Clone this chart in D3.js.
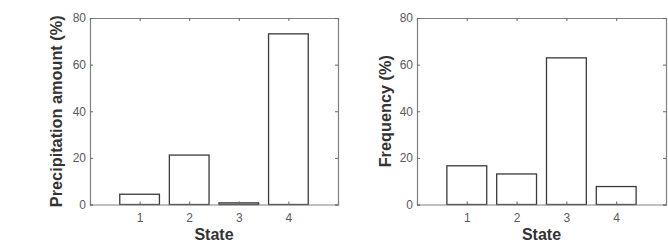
<!DOCTYPE html>
<html><head><meta charset="utf-8">
<script src="https://cdn.jsdelivr.net/npm/d3@7"></script>
<style>body{margin:0;background:#fff}svg{display:block}</style>
</head><body>
<svg id="c" width="668" height="252"></svg>
<script>
const states = [1, 2, 3, 4];
const precipAmount = [4.4, 21.2, 0.7, 73.2];
const frequency = [16.6, 13.1, 62.9, 7.7];
const yTicks = [0, 20, 40, 60, 80];
const panels = [
  {label: "Precipitation amount (%)", values: precipAmount, left: 90, right: 338, ylx: 61.5},
  {label: "Frequency (%)", values: frequency, left: 417, right: 666, ylx: 391}
];
const plotTop = 18, plotBottom = 204.5;
const svg = d3.select("#c");
const axisColor = "#808080", textColor = "#5a5a5a", barColor = "#3a3a3a";
const font = "Liberation Sans, Arial, sans-serif";

panels.forEach(p => {
  const x = d3.scaleLinear().domain([0, 5]).range([p.left, p.right]);
  const y = d3.scaleLinear().domain([0, 80]).range([plotBottom, plotTop]);
  const g = svg.append("g");
  g.selectAll("rect.bar").data(states).join("rect")
    .attr("x", d => x(d - 0.4)).attr("width", d => x(d + 0.4) - x(d - 0.4))
    .attr("y", (d, i) => y(p.values[i])).attr("height", (d, i) => y(0) - y(p.values[i]))
    .attr("fill", "#fff").attr("stroke", barColor).attr("stroke-width", 1.3);
  const ax = [
    d3.axisBottom(x).tickValues(states).tickSize(-3).tickPadding(8.5).tickFormat(d3.format("d")),
    d3.axisTop(x).tickValues(states).tickSize(-3).tickFormat(""),
    d3.axisLeft(y).tickValues(yTicks).tickSize(-3).tickPadding(4),
    d3.axisRight(y).tickValues(yTicks).tickSize(-3).tickFormat("")
  ];
  const tr = [`translate(0,${plotBottom})`, `translate(0,${plotTop})`, `translate(${p.left},0)`, `translate(${p.right},0)`];
  ax.forEach((a, i) => {
    const ag = g.append("g").attr("transform", tr[i]).call(a);
    ag.select(".domain").attr("stroke", axisColor).attr("stroke-width", 1.2);
    ag.selectAll(".tick line").attr("stroke", "#666");
    ag.selectAll(".tick text").attr("fill", textColor).attr("font-family", font).attr("font-size", 12);
  });
  g.append("text").attr("x", (p.left + p.right) / 2).attr("y", 240)
    .attr("text-anchor", "middle").attr("fill", "#333")
    .attr("font-family", font).attr("font-size", 16).attr("font-weight", "bold")
    .text("State");
  g.append("text").attr("transform", `translate(${p.ylx},${(plotTop + plotBottom) / 2}) rotate(-90)`)
    .attr("text-anchor", "middle").attr("fill", "#333")
    .attr("font-family", font).attr("font-size", 16.3).attr("font-weight", "bold")
    .text(p.label);
});
</script>
</body></html>
